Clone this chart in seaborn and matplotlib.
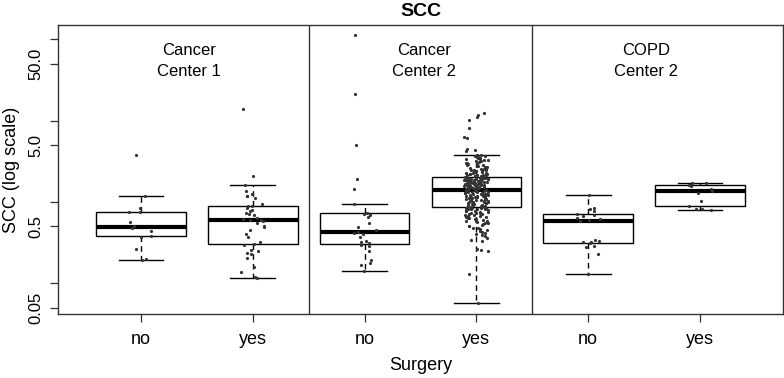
import numpy as np
import pandas as pd
import matplotlib
matplotlib.use("Agg")
import matplotlib.pyplot as plt
import seaborn as sns

# ---------------- data ----------------
group_labels = ["Cancer\nCenter 1", "Cancer\nCenter 2", "COPD\nCenter 2"]
surgery_labels = ["no", "yes", "no", "yes", "no", "yes"]
y_ticks = [0.05, 0.1, 0.5, 1, 5, 10, 50, 100]
y_ticklabels = ["0.05", "", "0.5", "", "5.0", "", "50.0", ""]

cc1_no = [0.193, 0.197, 0.265, 0.375, 0.385, 0.435, 0.485, 0.50, 0.565,
          0.745, 0.76, 0.85, 1.17, 3.8]

cc1_yes = [0.116, 0.120, 0.136, 0.159, 0.207, 0.227, 0.236, 0.249, 0.259, 0.30,
           0.305, 0.318, 0.370, 0.399, 0.447, 0.491, 0.50, 0.55, 0.581, 0.594,
           0.60, 0.621, 0.64, 0.687, 0.72, 0.736, 0.77, 0.808, 0.847, 0.884,
           0.89, 0.957, 1.12, 1.17, 1.20, 1.26, 1.37, 1.60, 2.07, 13.8]

cc2_no = [0.141, 0.168, 0.179, 0.191, 0.249, 0.287, 0.300, 0.312, 0.325,
          0.330, 0.374, 0.399, 0.419, 0.433, 0.459, 0.49, 0.555, 0.657,
          0.70, 0.72, 0.74, 0.948, 1.45, 1.94, 5.06, 21.1, 113.0]

cc2_yes = [0.058, 0.13, 0.25, 0.255, 0.262, 0.33, 0.345, 0.36, 0.38, 0.39,
           0.41, 0.42, 0.425, 0.44, 0.45, 0.47, 0.475, 0.48, 0.50, 0.51,
           0.52, 0.53, 0.55, 0.555, 0.56, 0.58, 0.585, 0.59, 0.60, 0.62,
           0.625, 0.63, 0.64, 0.65, 0.66, 0.67, 0.68, 0.685, 0.70, 0.71,
           0.72, 0.725, 0.73, 0.74, 0.75, 0.76, 0.765, 0.78, 0.785, 0.79,
           0.80, 0.81, 0.815, 0.82, 0.83, 0.84, 0.845, 0.85, 0.855, 0.86,
           0.865, 0.87, 0.88, 0.89, 0.90, 0.905, 0.91, 0.92, 0.93, 0.94,
           0.95, 0.96, 0.97, 0.98, 0.99, 1.00, 1.005, 1.01, 1.02, 1.03,
           1.04, 1.05, 1.06, 1.07, 1.08, 1.09, 1.10, 1.105, 1.11, 1.12,
           1.13, 1.14, 1.15, 1.16, 1.17, 1.18, 1.19, 1.20, 1.21, 1.22,
           1.23, 1.24, 1.25, 1.26, 1.27, 1.28, 1.29, 1.30, 1.31, 1.32,
           1.33, 1.34, 1.35, 1.36, 1.37, 1.38, 1.385, 1.39, 1.395, 1.40,
           1.42, 1.43, 1.44, 1.45, 1.46, 1.47, 1.48, 1.49, 1.50, 1.51,
           1.52, 1.53, 1.54, 1.55, 1.56, 1.57, 1.58, 1.59, 1.60, 1.61,
           1.62, 1.63, 1.64, 1.65, 1.66, 1.67, 1.68, 1.69, 1.70, 1.71,
           1.72, 1.73, 1.74, 1.75, 1.76, 1.77, 1.78, 1.79, 1.80, 1.81,
           1.82, 1.84, 1.85, 1.86, 1.87, 1.88, 1.89, 1.90, 1.91, 1.92,
           1.93, 1.94, 1.95, 1.96, 1.97, 1.98, 2.00, 2.01, 2.03, 2.04,
           2.07, 2.09, 2.10, 2.12, 2.14, 2.15, 2.17, 2.20, 2.22, 2.24,
           2.26, 2.28, 2.30, 2.33, 2.35, 2.38, 2.40, 2.42, 2.45, 2.48,
           2.50, 2.53, 2.56, 2.60, 2.63, 2.66, 2.70, 2.74, 2.78, 2.82,
           2.86, 2.90, 2.95, 3.00, 3.05, 3.10, 3.15, 3.20, 3.25, 3.30,
           3.35, 3.40, 3.45, 3.50, 3.55, 3.60, 3.65, 3.70, 3.75, 3.81,
           4.2, 4.3, 4.5, 6.1, 6.3, 8.1, 10.2, 11.0, 11.8, 12.6]

copd_no = [0.129, 0.227, 0.28, 0.287, 0.316, 0.318, 0.324, 0.334, 0.345, 0.585,
           0.60, 0.61, 0.64, 0.68, 0.70, 0.71, 0.77, 0.83, 0.855, 1.22]

copd_yes = [0.79, 0.81, 0.82, 0.905, 1.04, 1.29, 1.36, 1.45, 1.56, 1.60,
            1.62, 1.70, 1.71]

series = [cc1_no, cc1_yes, cc2_no, cc2_yes, copd_no, copd_yes]
keys = ["g0", "g1", "g2", "g3", "g4", "g5"]

df = pd.concat(
    [pd.DataFrame({"grp": k, "SCC": v}) for k, v in zip(keys, series)],
    ignore_index=True,
)

# ---------------- figure ----------------
plt.rcParams["font.family"] = ["Liberation Sans", "DejaVu Sans"]
fig = plt.figure(figsize=(7.84, 3.78), dpi=100)
ax = fig.add_axes([58 / 784, 1 - 314 / 378, 725 / 784, 289 / 378])

sns.boxplot(
    data=df, x="grp", y="SCC", order=keys, ax=ax,
    color="white", linecolor="black", linewidth=1.0, width=0.8,
    showfliers=False,
    whiskerprops={"linestyle": (0, (4, 3))},
    medianprops={"linewidth": 3.0},
)
np.random.seed(3)
sns.stripplot(
    data=df, x="grp", y="SCC", order=keys, ax=ax,
    color="#333333", size=2.3, jitter=0.11, linewidth=0,
)

ax.set_yscale("log")
ax.set_ylim(0.042, 150)
ax.set_xlim(-0.742, 5.742)
ax.minorticks_off()
ax.set_yticks(y_ticks)
ax.set_yticklabels(y_ticklabels, rotation=90, va="center", fontsize=12)
ax.set_xticks(range(6))
ax.set_xticklabels(surgery_labels, fontsize=13)
ax.tick_params(axis="both", direction="out", length=5.5, width=0.9, color="#333333")
ax.tick_params(axis="x", pad=7)
ax.tick_params(axis="y", pad=5)

for s in ax.spines.values():
    s.set_color("#333333")
    s.set_linewidth(1.0)

for xv in (1.5, 3.5):
    ax.axvline(xv, color="#333333", linewidth=1.0)

for xp, lab in zip([0.43, 2.53, 4.52], group_labels):
    ax.text(xp, 0.877, lab, transform=ax.get_xaxis_transform(),
            ha="center", va="center", fontsize=12, linespacing=1.5)

ax.set_xlabel("Surgery", fontsize=13, labelpad=6)
ax.set_ylabel("SCC (log scale)", fontsize=13, labelpad=6)
fig.text((58 + 783) / 2 / 784, 1 - 11 / 378, "SCC", ha="center", va="center",
         fontsize=14, fontweight="bold")

fig.savefig("out.png", dpi=100)
